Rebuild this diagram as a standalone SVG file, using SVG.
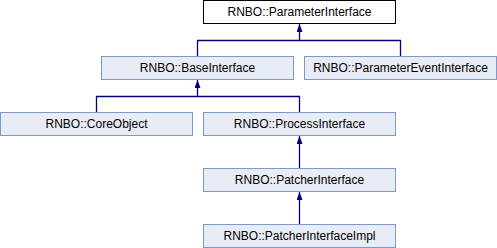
<svg xmlns="http://www.w3.org/2000/svg" width="497" height="248" viewBox="0 0 497 248">
<style>
.n rect{fill:#e8ecf5;stroke:#7f98c9;stroke-width:1}
.n.top rect{fill:#ffffff;stroke:#000000}
.n text{font-family:"Liberation Sans",Arial,sans-serif;font-size:12px;fill:#000000;text-anchor:middle}
.c path{fill:none;stroke:#000080;stroke-width:1.3}
</style>
<defs>
<marker id="ah" viewBox="0 0 8 6" refX="8" refY="3" markerWidth="8" markerHeight="6" markerUnits="userSpaceOnUse" orient="auto">
<path d="M0,0 L8,3 L0,6 Z" fill="#000080"/>
</marker>
</defs>
<g id="connectors" class="c">
<path d="M197.5,56 V40.5 H400.5 V56"/>
<path d="M299.5,40.5 V24" marker-end="url(#ah)"/>
<path d="M96.5,112 V96.5 H299.5 V112"/>
<path d="M197.5,96.5 V80" marker-end="url(#ah)"/>
<path d="M299.5,168 V136" marker-end="url(#ah)"/>
<path d="M299.5,224 V192" marker-end="url(#ah)"/>
</g>
<g id="ParameterInterface" class="n top"><rect x="203.5" y="0.5" width="192" height="23"/><text x="299.5" y="16">RNBO::ParameterInterface</text></g>
<g id="BaseInterface" class="n"><rect x="101.5" y="56.5" width="192" height="23"/><text x="197.5" y="72">RNBO::BaseInterface</text></g>
<g id="ParameterEventInterface" class="n"><rect x="304.5" y="56.5" width="192" height="23"/><text x="400.5" y="72">RNBO::ParameterEventInterface</text></g>
<g id="CoreObject" class="n"><rect x="0.5" y="112.5" width="192" height="23"/><text x="96.5" y="128">RNBO::CoreObject</text></g>
<g id="ProcessInterface" class="n"><rect x="203.5" y="112.5" width="192" height="23"/><text x="299.5" y="128">RNBO::ProcessInterface</text></g>
<g id="PatcherInterface" class="n"><rect x="203.5" y="168.5" width="192" height="23"/><text x="299.5" y="184">RNBO::PatcherInterface</text></g>
<g id="PatcherInterfaceImpl" class="n"><rect x="203.5" y="224.5" width="192" height="23"/><text x="299.5" y="240">RNBO::PatcherInterfaceImpl</text></g>
</svg>
